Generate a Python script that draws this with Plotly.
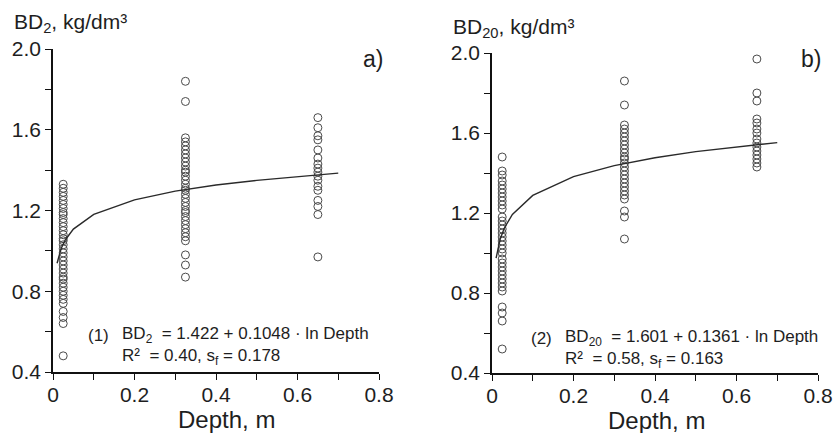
import plotly.graph_objects as go

# ---------------- data ----------------
depth_levels = [0.025, 0.325, 0.65]

a_shallow = [1.33, 1.31, 1.29, 1.27, 1.25, 1.23, 1.21, 1.19, 1.18, 1.16, 1.14, 1.12,
             1.10, 1.08, 1.06, 1.05, 1.03, 1.01, 0.99, 0.97, 0.95, 0.93, 0.91, 0.89,
             0.87, 0.86, 0.84, 0.82, 0.80, 0.78, 0.76, 0.74, 0.70, 0.67, 0.64, 0.48]
a_mid = [1.84, 1.74, 1.56, 1.54, 1.52, 1.50, 1.48, 1.46, 1.44, 1.42, 1.40, 1.39,
         1.37, 1.35, 1.33, 1.31, 1.30, 1.28, 1.26, 1.24, 1.22, 1.20, 1.19, 1.17,
         1.15, 1.13, 1.11, 1.09, 1.07, 1.05, 0.98, 0.93, 0.87]
a_deep = [1.66, 1.61, 1.57, 1.55, 1.50, 1.46, 1.43, 1.41, 1.39, 1.37, 1.35, 1.32,
          1.30, 1.25, 1.22, 1.18, 0.97]

b_shallow = [1.48, 1.41, 1.39, 1.36, 1.34, 1.32, 1.30, 1.28, 1.26, 1.24, 1.22, 1.18,
             1.16, 1.14, 1.12, 1.10, 1.08, 1.06, 1.04, 1.02, 1.00, 0.97, 0.95, 0.93,
             0.91, 0.89, 0.87, 0.85, 0.83, 0.81, 0.73, 0.70, 0.66, 0.52]
b_mid = [1.86, 1.74, 1.64, 1.62, 1.60, 1.58, 1.56, 1.54, 1.52, 1.50, 1.48, 1.47,
         1.45, 1.43, 1.41, 1.39, 1.37, 1.35, 1.33, 1.31, 1.29, 1.27, 1.21, 1.18, 1.07]
b_deep = [1.97, 1.80, 1.76, 1.67, 1.65, 1.62, 1.60, 1.57, 1.55, 1.53, 1.51, 1.49,
          1.47, 1.45, 1.43]

fit_depth = [0.01, 0.02, 0.03, 0.05, 0.1, 0.2, 0.3, 0.4, 0.5, 0.6, 0.7]
fit_a = [0.939, 1.012, 1.054, 1.108, 1.181, 1.253, 1.296, 1.326, 1.349, 1.368, 1.385]
fit_b = [0.974, 1.069, 1.124, 1.193, 1.288, 1.382, 1.437, 1.476, 1.507, 1.531, 1.552]

x_ticks = [0, 0.2, 0.4, 0.6, 0.8]
x_ticktext = ["0", "0.2", "0.4", "0.6", "0.8"]
x_minor = [0.1, 0.3, 0.5, 0.7]
y_ticks = [0.4, 0.8, 1.2, 1.6, 2.0]
y_ticktext = ["0.4", "0.8", "1.2", "1.6", "2.0"]
y_minor = [0.6, 1.0, 1.4, 1.8]

# ---------------- figure ----------------
W, H = 835, 433
FONT = "Liberation Sans, Arial, Helvetica, sans-serif"
TXT = "#1e1e1e"
MK = dict(symbol="circle-open", size=8, color="#4a4a4a", line=dict(width=1))

fig = go.Figure()


def add_panel(xa, ya, groups, fit):
    for d, vals in zip(depth_levels, groups):
        fig.add_trace(go.Scatter(x=[d] * len(vals), y=vals, mode="markers",
                                 marker=MK, xaxis=xa, yaxis=ya, showlegend=False,
                                 hoverinfo="x+y"))
    fig.add_trace(go.Scatter(x=fit_depth, y=fit, mode="lines",
                             line=dict(color="#2a2a2a", width=1.4),
                             xaxis=xa, yaxis=ya, showlegend=False))


add_panel("x", "y", [a_shallow, a_mid, a_deep], fit_a)
add_panel("x2", "y2", [b_shallow, b_mid, b_deep], fit_b)


def px(x):
    return x / W


def py(y):
    return (H - y) / H


xcommon = dict(range=[0, 0.8], tickvals=x_ticks, ticktext=x_ticktext,
               ticks="outside", ticklen=6, tickwidth=1.3, tickcolor="#111",
               showline=True, linecolor="#111", linewidth=1.6, showgrid=False,
               zeroline=False, tickfont=dict(family=FONT, size=21, color=TXT),
               minor=dict(tickvals=x_minor, ticks="outside", ticklen=6,
                          tickwidth=1.3, tickcolor="#111", showgrid=False),
               ticklabelstandoff=-3, automargin=False, fixedrange=True)
ycommon = dict(range=[0.4, 2.0], tickvals=y_ticks, ticktext=y_ticktext,
               ticks="outside", ticklen=6, tickwidth=1.3, tickcolor="#111",
               showline=True, linecolor="#111", linewidth=1.6, showgrid=False,
               zeroline=False, tickfont=dict(family=FONT, size=21, color=TXT),
               minor=dict(tickvals=y_minor, ticks="outside", ticklen=6,
                          tickwidth=1.3, tickcolor="#111", showgrid=False),
               ticklabelstandoff=0, automargin=False, fixedrange=True)

fig.update_layout(
    width=W, height=H,
    margin=dict(l=0, r=0, t=0, b=0, autoexpand=False),
    paper_bgcolor="white", plot_bgcolor="white",
    xaxis=dict(xcommon, domain=[px(53), px(379)], anchor="y"),
    yaxis=dict(ycommon, domain=[py(372), py(49)], anchor="x"),
    xaxis2=dict(xcommon, domain=[px(492), px(818)], anchor="y2"),
    yaxis2=dict(ycommon, domain=[py(373), py(53)], anchor="x2"),
    font=dict(family=FONT, color=TXT),
)

ann = []


def text(x, y, s, size, xanchor="left"):
    ann.append(dict(x=px(x), y=py(y), xref="paper", yref="paper", text=s,
                    showarrow=False, xanchor=xanchor, yanchor="middle",
                    font=dict(family=FONT, size=size, color=TXT)))


# axis titles
text(12, 23, "BD<sub>2</sub>, kg/dm³", 21)
text(451, 28, "BD<sub>20</sub>, kg/dm³", 21)
text(226, 419, "Depth, m", 24, "center")
text(656, 420, "Depth, m", 24, "center")
# panel labels
text(361, 59, "a)", 23)
text(799, 59, "b)", 23)
# equations
text(86, 335, "(1)", 17)
text(120, 335, "BD<sub>2</sub>  = 1.422 + 0.1048 · ln Depth", 17)
text(120, 357, "R²  = 0.40, s<sub>f</sub> = 0.178", 17)
text(529, 338, "(2)", 17)
text(563, 338, "BD<sub>20</sub>  = 1.601 + 0.1361 · ln Depth", 17)
text(563, 360, "R²  = 0.58, s<sub>f</sub> = 0.163", 17)

fig.update_layout(annotations=ann)

fig.write_html(
    "out.html",
    config={"displayModeBar": False, "staticPlot": False},
    post_script="document.body.style.margin='0px';document.body.style.padding='0px';",
)
